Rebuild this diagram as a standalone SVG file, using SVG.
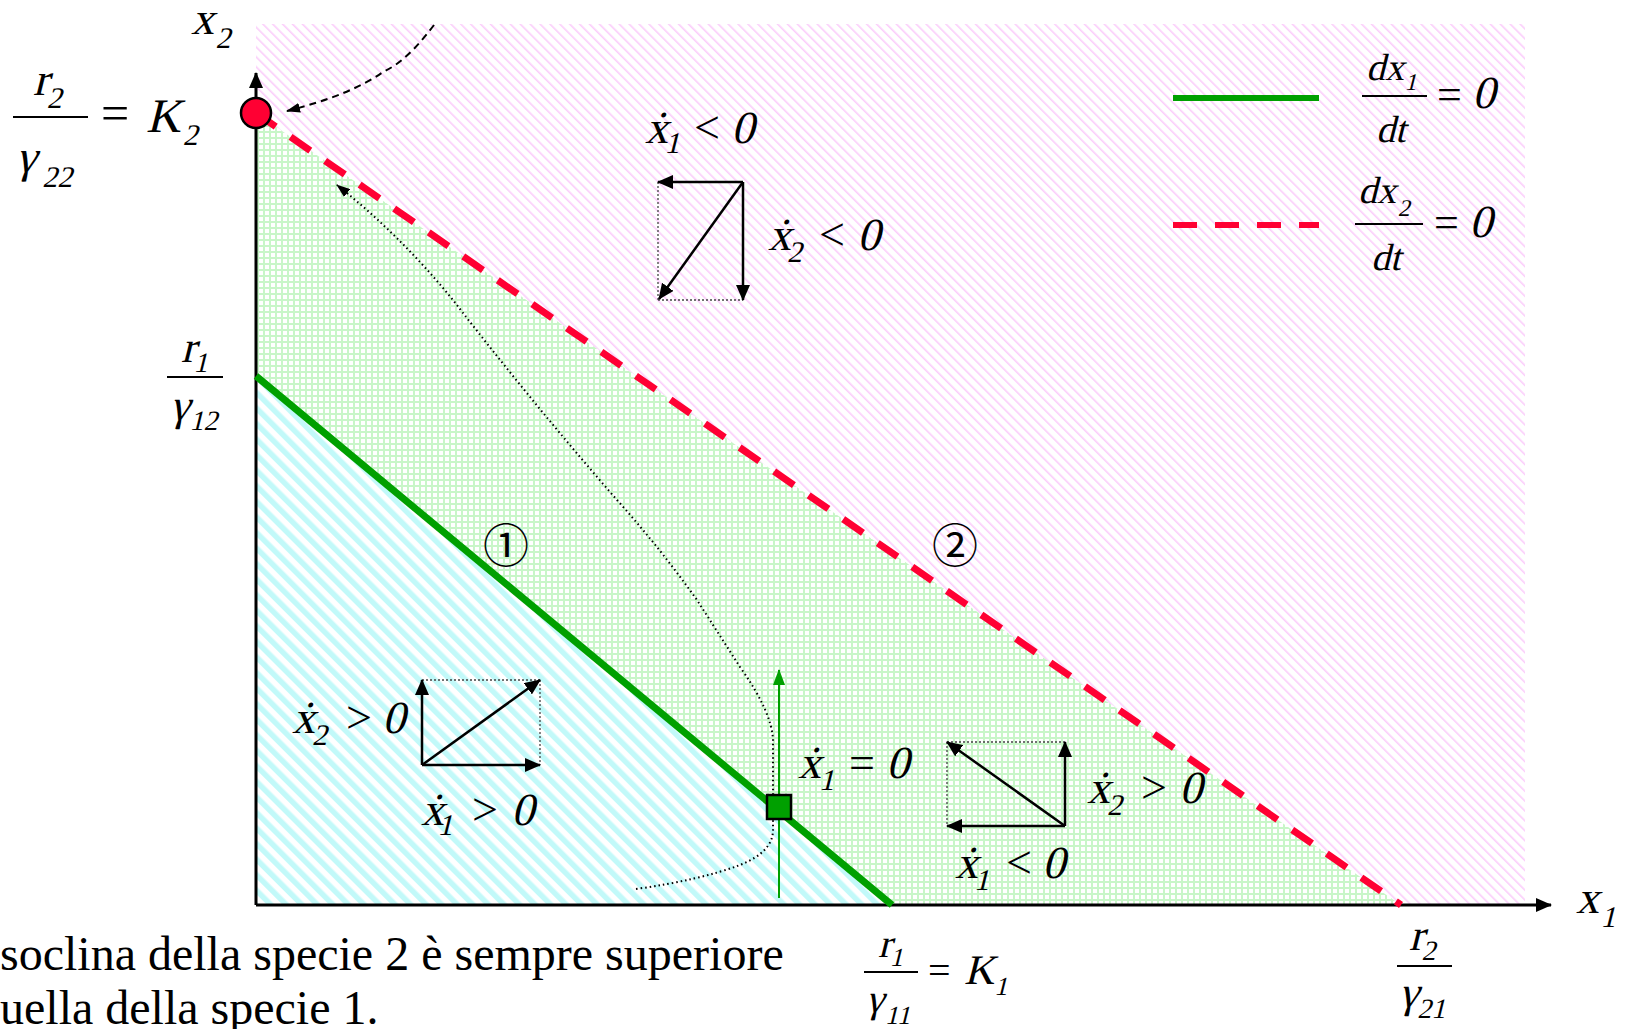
<svg xmlns="http://www.w3.org/2000/svg" width="1627" height="1029" viewBox="0 0 1627 1029">
<style>
.m{font-family:"Liberation Serif","Times New Roman",serif;font-style:normal;fill:#000}
.u{font-family:"Liberation Serif","Times New Roman",serif;font-style:normal;fill:#000}
.bar{stroke:#000;stroke-width:2}
.vec{stroke:#000;stroke-width:2.5;fill:none;marker-end:url(#ah)}
.dot{stroke:#444;stroke-width:1.3;stroke-dasharray:2 2;fill:none}
.circ{font-family:"Noto Sans CJK JP","DejaVu Sans",sans-serif;font-size:46px;text-anchor:middle}
</style>
<defs>
<pattern id="pk" width="7" height="7" patternUnits="userSpaceOnUse" patternTransform="rotate(-45)"><rect width="7" height="7" fill="#fff"/><rect width="1.6" height="7" fill="#fbcdfb"/></pattern>
<pattern id="cy" width="11" height="11" patternUnits="userSpaceOnUse" patternTransform="rotate(-45)"><rect width="11" height="11" fill="#fff"/><rect width="5.5" height="11" fill="#c2f9f9"/></pattern>
<pattern id="gr" width="6" height="6" patternUnits="userSpaceOnUse"><rect width="6" height="6" fill="#c8f6c8"/><rect x="1" y="1" width="4" height="4" fill="#fff"/></pattern>
<marker id="ah" markerWidth="16" markerHeight="14" refX="15" refY="7" orient="auto" markerUnits="userSpaceOnUse"><path d="M0,0 L16,7 L0,14 z" fill="#000"/></marker>
<marker id="ahs" markerWidth="14" markerHeight="10" refX="13" refY="5" orient="auto" markerUnits="userSpaceOnUse"><path d="M0,0 L14,5 L0,10 z" fill="#000"/></marker>
<marker id="ahg" markerWidth="16" markerHeight="12" refX="15" refY="6" orient="auto" markerUnits="userSpaceOnUse"><path d="M0,0 L16,6 L0,12 z" fill="#00a000"/></marker>
</defs>
<rect width="1627" height="1029" fill="#fff"/>

<g id="regions">
<polygon points="256,24 1525,24 1525,905 1401,905 256,113" fill="url(#pk)"/>
<polygon points="256,113 1401,905 892,905 256,376" fill="url(#gr)"/>
<polygon points="256,376 892,905 256,905" fill="url(#cy)"/>
</g>

<g id="axes">
<line x1="256" y1="905" x2="256" y2="73" stroke="#000" stroke-width="3" marker-end="url(#ah)"/>
<line x1="256" y1="905" x2="1551" y2="905" stroke="#000" stroke-width="3" marker-end="url(#ah)"/>
</g>

<g id="connectors">
<line x1="256" y1="376" x2="892" y2="905" stroke="#00a000" stroke-width="7"/>
<line x1="256" y1="113" x2="1401" y2="905" stroke="#ff0033" stroke-width="7" stroke-dasharray="24 18"/>
<line x1="779" y1="898" x2="779" y2="670" stroke="#00a000" stroke-width="2" marker-end="url(#ahg)"/>
<path d="M434,25 C415,50 400,64 383,72 C360,88 330,100 287,111" stroke="#000" stroke-width="2" stroke-dasharray="7 5" fill="none" marker-end="url(#ahs)"/>
<path d="M636,889 Q700,880 740,865 Q773,852 773,830 L773,740 Q772,712 740,667 L697,600 Q660,548 617,500 Q530,400 453,300 Q400,235 337,185" stroke="#000" stroke-width="2" stroke-dasharray="1.5 3" fill="none" marker-end="url(#ahs)"/>
</g>

<g id="eq-K2"><circle cx="256" cy="113" r="15" fill="#ff0033" stroke="#000" stroke-width="2.5"/></g>
<g id="eq-K1"><rect x="767" y="795" width="24" height="24" fill="#00a000" stroke="#000" stroke-width="2.5"/></g>

<g id="box-top">
<line class="dot" x1="658" y1="182" x2="658" y2="300"/>
<line class="dot" x1="658" y1="300" x2="743" y2="300"/>
<line class="vec" x1="743" y1="182" x2="658" y2="182"/>
<line class="vec" x1="743" y1="182" x2="743" y2="300"/>
<line class="vec" x1="743" y1="182" x2="659" y2="299"/>
</g>
<g id="box-left">
<line class="dot" x1="422" y1="680" x2="540" y2="680"/>
<line class="dot" x1="540" y1="680" x2="540" y2="765"/>
<line class="vec" x1="422" y1="765" x2="540" y2="765"/>
<line class="vec" x1="422" y1="765" x2="422" y2="680"/>
<line class="vec" x1="422" y1="765" x2="540" y2="680"/>
</g>
<g id="box-right">
<line class="dot" x1="947" y1="742" x2="1065" y2="742"/>
<line class="dot" x1="947" y1="742" x2="947" y2="826"/>
<line class="vec" x1="1065" y1="826" x2="947" y2="826"/>
<line class="vec" x1="1065" y1="826" x2="1065" y2="742"/>
<line class="vec" x1="1065" y1="826" x2="947" y2="742"/>
</g>

<g id="legend">
<line x1="1173" y1="98" x2="1319" y2="98" stroke="#00a000" stroke-width="6"/>
<line x1="1173" y1="225" x2="1319" y2="225" stroke="#ff0033" stroke-width="6" stroke-dasharray="24 18"/>
<text class="m" font-size="38" transform="translate(1366 80) skewX(-14)"><tspan x="0" y="0">dx</tspan><tspan x="41" y="10" font-size="24">1</tspan></text>
<line class="bar" x1="1362" y1="96" x2="1427" y2="96"/>
<text class="m" font-size="38" transform="translate(1376 142) skewX(-14)">dt</text>
<text class="u" font-size="44" x="1437" y="109">=</text>
<text class="m" font-size="46" transform="translate(1472 108) skewX(-14)">0</text>
<text class="m" font-size="38" transform="translate(1358 203) skewX(-14)"><tspan x="0" y="0">dx</tspan><tspan x="43" y="13" font-size="24">2</tspan></text>
<line class="bar" x1="1355" y1="224" x2="1423" y2="224"/>
<text class="m" font-size="38" transform="translate(1371 270) skewX(-14)">dt</text>
<text class="u" font-size="44" x="1434" y="237">=</text>
<text class="m" font-size="46" transform="translate(1469 237) skewX(-14)">0</text>
</g>

<g id="labels">
<text class="m" font-size="46" transform="translate(191 34) skewX(-14)"><tspan x="0" y="0">x</tspan><tspan x="28" y="14" font-size="30">2</tspan></text>

<text class="m" font-size="46" transform="translate(33 95) skewX(-14)"><tspan x="0" y="0">r</tspan><tspan x="17" y="13" font-size="30">2</tspan></text>
<line class="bar" x1="13" y1="117" x2="88" y2="117"/>
<text class="m" font-size="46" transform="translate(16 172) skewX(-14)"><tspan x="0" y="0">γ</tspan><tspan x="30" y="15" font-size="30">22</tspan></text>
<text class="u" font-size="50" x="101" y="130">=</text>
<text class="m" font-size="48" transform="translate(146 132) skewX(-14)"><tspan x="0" y="0">K</tspan><tspan x="40" y="13" font-size="30">2</tspan></text>

<text class="m" font-size="44" transform="translate(181 362) skewX(-14)"><tspan x="0" y="0">r</tspan><tspan x="15" y="10" font-size="28">1</tspan></text>
<line class="bar" x1="167" y1="377" x2="223" y2="377"/>
<text class="m" font-size="44" transform="translate(170 420) skewX(-14)"><tspan x="0" y="0">γ</tspan><tspan x="22" y="10" font-size="28">12</tspan></text>

<text class="m" font-size="46" transform="translate(1576 913) skewX(-14)"><tspan x="0" y="0">x</tspan><tspan x="28" y="14" font-size="30">1</tspan></text>

<text class="m" font-size="44" transform="translate(1409 950) skewX(-14)"><tspan x="0" y="0">r</tspan><tspan x="15" y="10" font-size="28">2</tspan></text>
<line class="bar" x1="1397" y1="966" x2="1452" y2="966"/>
<text class="m" font-size="44" transform="translate(1399 1007) skewX(-14)"><tspan x="0" y="0">γ</tspan><tspan x="21" y="11" font-size="28">21</tspan></text>

<text class="m" font-size="40" transform="translate(878 957) skewX(-14)"><tspan x="0" y="0">r</tspan><tspan x="14" y="9" font-size="26">1</tspan></text>
<line class="bar" x1="864" y1="972" x2="918" y2="972"/>
<text class="m" font-size="40" transform="translate(866 1012) skewX(-14)"><tspan x="0" y="0">γ</tspan><tspan x="22" y="12" font-size="26">11</tspan></text>
<text class="u" font-size="40" x="928" y="984">=</text>
<text class="m" font-size="42" transform="translate(964 984) skewX(-14)"><tspan x="0" y="0">K</tspan><tspan x="33" y="11" font-size="26">1</tspan></text>

<text class="m" font-size="46" transform="translate(645 143) skewX(-14)"><tspan x="0" y="0">ẋ</tspan><tspan x="22" y="10" font-size="30">1</tspan></text>
<text class="u" font-size="46" x="694" y="143">&lt;</text>
<text class="m" font-size="46" transform="translate(731 143) skewX(-14)">0</text>

<text class="m" font-size="46" transform="translate(768 250) skewX(-14)"><tspan x="0" y="0">ẋ</tspan><tspan x="22" y="12" font-size="30">2</tspan></text>
<text class="u" font-size="46" x="819" y="250">&lt;</text>
<text class="m" font-size="46" transform="translate(857 250) skewX(-14)">0</text>

<text class="m" font-size="46" transform="translate(292 733) skewX(-14)"><tspan x="0" y="0">ẋ</tspan><tspan x="23" y="12" font-size="30">2</tspan></text>
<text class="u" font-size="46" x="346" y="733">&gt;</text>
<text class="m" font-size="46" transform="translate(382 733) skewX(-14)">0</text>

<text class="m" font-size="46" transform="translate(421 825) skewX(-14)"><tspan x="0" y="0">ẋ</tspan><tspan x="19" y="10" font-size="30">1</tspan></text>
<text class="u" font-size="46" x="472" y="825">&gt;</text>
<text class="m" font-size="46" transform="translate(511 825) skewX(-14)">0</text>

<text class="m" font-size="46" transform="translate(798 778) skewX(-14)"><tspan x="0" y="0">ẋ</tspan><tspan x="24" y="12" font-size="30">1</tspan></text>
<text class="u" font-size="46" x="849" y="778">=</text>
<text class="m" font-size="46" transform="translate(886 778) skewX(-14)">0</text>

<text class="m" font-size="46" transform="translate(1087 803) skewX(-14)"><tspan x="0" y="0">ẋ</tspan><tspan x="23" y="12" font-size="30">2</tspan></text>
<text class="u" font-size="46" x="1141" y="803">&gt;</text>
<text class="m" font-size="46" transform="translate(1179 803) skewX(-14)">0</text>

<text class="m" font-size="46" transform="translate(955 878) skewX(-14)"><tspan x="0" y="0">ẋ</tspan><tspan x="22" y="12" font-size="30">1</tspan></text>
<text class="u" font-size="46" x="1006" y="878">&lt;</text>
<text class="m" font-size="46" transform="translate(1042 878) skewX(-14)">0</text>

<text class="circ" x="506" y="562">①</text>
<text class="circ" x="955" y="562">②</text>

<text class="u" font-size="48" x="0" y="970">soclina della specie 2 è sempre superiore</text>
<text class="u" font-size="48" x="0" y="1024">uella della specie 1.</text>
</g>
</svg>
